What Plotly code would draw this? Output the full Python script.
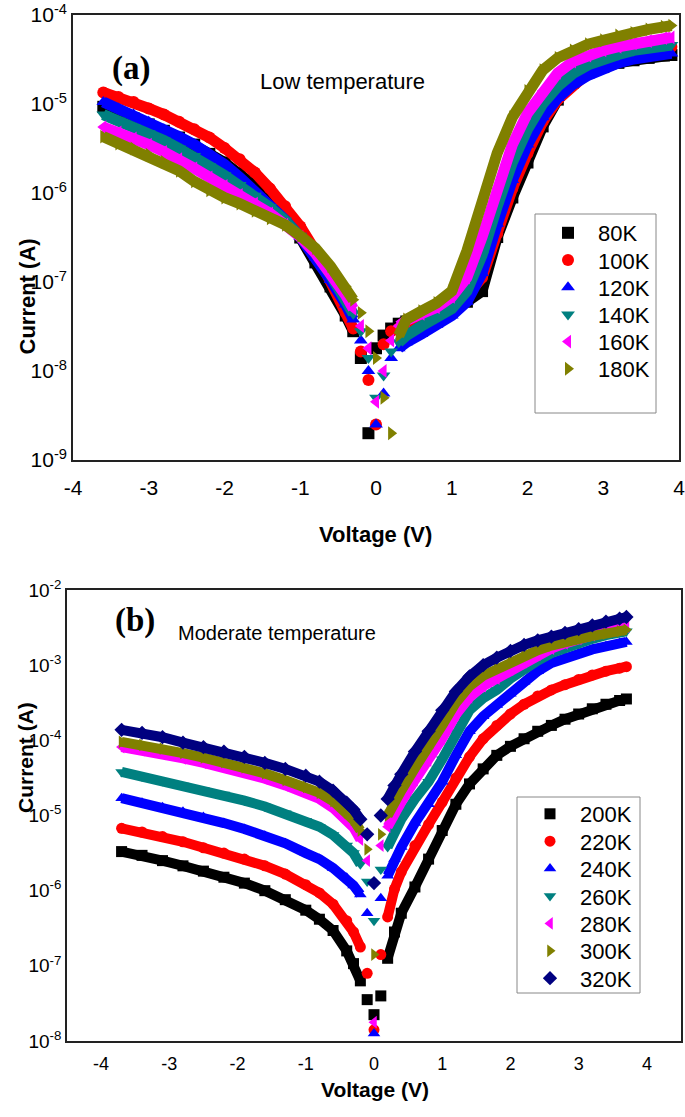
import math
import plotly.graph_objects as go

# ---------------- panel (a): low temperature ----------------
volt_a = [-3.6, -3.4, -3.2, -3.0, -2.8, -2.6, -2.4, -2.2, -2.0, -1.8, -1.6, -1.4, -1.2, -1.0, -0.8, -0.6, -0.4,
          -0.3, -0.2, -0.1, 0.0, 0.1, 0.2, 0.3, 0.4,
          0.6, 0.8, 1.0, 1.2, 1.4, 1.6, 1.8, 2.0, 2.2, 2.4, 2.6, 2.8, 3.0, 3.2, 3.4, 3.6, 3.8, 3.9]

i_80K = [9.3e-6, 8.1e-6, 6.9e-6, 5.9e-6, 5.0e-6, 4.2e-6, 3.5e-6, 2.75e-6, 2.2e-6, 1.66e-6, 1.2e-6, 8.3e-7, 5.5e-7, 3.16e-7, 1.66e-7, 8.9e-8, 4.2e-8,
         2.8e-8, 1.4e-8, 2.0e-9, 1.8e-8, 2.5e-8, 3.0e-8, 3.4e-8, 3.6e-8,
         4.2e-8, 4.8e-8, 5.4e-8, 6.0e-8, 7.9e-8, 3.2e-7, 8.9e-7, 2.2e-6, 5.6e-6, 1.12e-5, 1.74e-5, 2.24e-5, 2.6e-5, 2.9e-5, 3.1e-5, 3.3e-5, 3.5e-5, 3.55e-5]
i_100K = [1.35e-5, 1.2e-5, 1.05e-5, 8.9e-6, 7.6e-6, 6.3e-6, 5.2e-6, 4.2e-6, 3.2e-6, 2.4e-6, 1.7e-6, 1.12e-6, 7.1e-7, 4.2e-7, 2.24e-7, 1.05e-7, 4.5e-8,
          3.0e-8, 1.66e-8, 7.9e-9, 2.5e-9, 2.0e-8, 2.8e-8, 3.0e-8, 3.3e-8,
          4.0e-8, 4.8e-8, 5.6e-8, 7.1e-8, 1.12e-7, 3.5e-7, 1.12e-6, 2.8e-6, 6.3e-6, 1.12e-5, 1.66e-5, 2.24e-5, 2.8e-5, 3.3e-5, 3.7e-5, 4.0e-5, 4.3e-5, 4.4e-5]
i_120K = [1.05e-5, 8.9e-6, 7.6e-6, 6.3e-6, 5.2e-6, 4.3e-6, 3.5e-6, 2.75e-6, 2.1e-6, 1.5e-6, 1.07e-6, 7.4e-7, 5.0e-7, 3.2e-7, 1.9e-7, 1.05e-7, 5.6e-8,
          3.8e-8, 2.2e-8, 1.0e-8, 2.5e-9, 5.6e-9, 1.4e-8, 1.8e-8, 2.1e-8,
          2.6e-8, 3.3e-8, 4.2e-8, 6.0e-8, 1.26e-7, 4.5e-7, 1.4e-6, 3.5e-6, 7.1e-6, 1.17e-5, 1.66e-5, 2.1e-5, 2.5e-5, 2.9e-5, 3.2e-5, 3.4e-5, 3.6e-5, 3.7e-5]
i_140K = [7.6e-6, 6.5e-6, 5.5e-6, 4.7e-6, 3.9e-6, 3.16e-6, 2.6e-6, 2.0e-6, 1.58e-6, 1.23e-6, 9.3e-7, 6.9e-7, 4.9e-7, 3.3e-7, 2.1e-7, 1.2e-7, 6.3e-8,
          4.4e-8, 2.8e-8, 1.4e-8, 5.0e-9, 8.9e-9, 1.66e-8, 2.1e-8, 2.5e-8,
          3.2e-8, 4.0e-8, 5.0e-8, 7.9e-8, 2.0e-7, 7.1e-7, 2.2e-6, 5.2e-6, 1.0e-5, 1.58e-5, 2.2e-5, 2.75e-5, 3.2e-5, 3.6e-5, 4.0e-5, 4.3e-5, 4.5e-5, 4.6e-5]
i_160K = [5.5e-6, 4.8e-6, 4.1e-6, 3.5e-6, 2.9e-6, 2.4e-6, 1.9e-6, 1.5e-6, 1.2e-6, 9.5e-7, 7.6e-7, 5.9e-7, 4.4e-7, 3.2e-7, 2.1e-7, 1.26e-7, 7.1e-8,
          5.0e-8, 3.2e-8, 1.8e-8, 4.5e-9, 1.0e-8, 2.2e-8, 3.2e-8, 3.7e-8,
          4.4e-8, 5.2e-8, 6.8e-8, 1.12e-7, 3.2e-7, 1.12e-6, 3.5e-6, 7.9e-6, 1.4e-5, 2.24e-5, 3.0e-5, 3.5e-5, 4.0e-5, 4.4e-5, 4.8e-5, 5.1e-5, 5.5e-5, 5.6e-5]
i_180K = [4.3e-6, 3.6e-6, 3.16e-6, 2.7e-6, 2.24e-6, 1.78e-6, 1.35e-6, 1.07e-6, 8.9e-7, 7.6e-7, 6.3e-7, 5.2e-7, 4.4e-7, 3.3e-7, 2.4e-7, 1.5e-7, 8.9e-8,
          6.3e-8, 4.5e-8, 2.8e-8, 1.4e-8, 5.0e-9, 2.0e-9, 2.5e-8, 3.8e-8,
          4.7e-8, 5.8e-8, 7.9e-8, 2.24e-7, 7.9e-7, 2.8e-6, 7.1e-6, 1.4e-5, 2.4e-5, 3.3e-5, 4.0e-5, 4.7e-5, 5.2e-5, 5.9e-5, 6.3e-5, 6.9e-5, 7.4e-5, 7.6e-5]

labels_a = ["80K", "100K", "120K", "140K", "160K", "180K"]
currents_a = [i_80K, i_100K, i_120K, i_140K, i_160K, i_180K]

# ---------------- panel (b): moderate temperature ----------------
volt_b = [-3.7, -3.4, -3.1, -2.8, -2.5, -2.2, -1.9, -1.6, -1.3, -1.0, -0.8, -0.6, -0.4, -0.3, -0.2, -0.1, 0.0,
          0.1, 0.2, 0.3, 0.4, 0.6, 0.8, 1.0, 1.2, 1.4, 1.6, 1.8, 2.0, 2.2, 2.4, 2.6, 2.8, 3.0, 3.2, 3.4, 3.6, 3.7]

i_200K = [3.31e-6, 2.95e-6, 2.51e-6, 2.14e-6, 1.82e-6, 1.51e-6, 1.26e-6, 1.0e-6, 7.59e-7, 5.5e-7, 4.17e-7, 2.95e-7, 1.58e-7, 1.07e-7, 6.31e-8, 3.55e-8, 2.24e-8,
          3.98e-8, 1.26e-7, 2.82e-7, 5.01e-7, 1.12e-6, 2.63e-6, 6.31e-6, 1.41e-5, 2.63e-5, 4.17e-5, 6.31e-5, 8.32e-5, 1.05e-4, 1.32e-4, 1.58e-4, 1.91e-4, 2.24e-4, 2.63e-4, 3.02e-4, 3.39e-4, 3.55e-4]
i_220K = [6.76e-6, 6.03e-6, 5.25e-6, 4.47e-6, 3.72e-6, 3.16e-6, 2.63e-6, 2.14e-6, 1.66e-6, 1.2e-6, 9.33e-7, 6.61e-7, 3.98e-7, 2.82e-7, 1.78e-7, 7.94e-8, 1.41e-8,
          1.41e-7, 4.47e-7, 1.05e-6, 1.78e-6, 3.98e-6, 7.59e-6, 1.51e-5, 3.16e-5, 6.03e-5, 1.05e-4, 1.58e-4, 2.24e-4, 3.02e-4, 3.89e-4, 4.68e-4, 5.5e-4, 6.46e-4, 7.41e-4, 8.32e-4, 9.12e-4, 9.55e-4]
i_240K = [1.7e-5, 1.48e-5, 1.29e-5, 1.12e-5, 9.55e-6, 7.94e-6, 6.61e-6, 5.37e-6, 4.27e-6, 3.16e-6, 2.63e-6, 2.0e-6, 1.48e-6, 1.17e-6, 8.91e-7, 5.01e-7, 1.26e-8,
          7.94e-7, 1.58e-6, 2.63e-6, 3.8e-6, 7.94e-6, 1.41e-5, 2.82e-5, 6.31e-5, 1.32e-4, 2.09e-4, 2.95e-4, 4.17e-4, 6.03e-4, 8.32e-4, 1.07e-3, 1.26e-3, 1.45e-3, 1.62e-3, 1.78e-3, 1.95e-3, 2.04e-3]
i_260K = [3.8e-5, 3.31e-5, 2.88e-5, 2.51e-5, 2.19e-5, 1.91e-5, 1.58e-5, 1.32e-5, 1.07e-5, 8.51e-6, 7.08e-6, 5.5e-6, 3.98e-6, 3.16e-6, 2.24e-6, 1.32e-6, 3.98e-7,
          1.91e-6, 3.8e-6, 6.31e-6, 8.91e-6, 1.66e-5, 2.82e-5, 5.62e-5, 1.26e-4, 2.51e-4, 3.63e-4, 4.68e-4, 6.61e-4, 8.91e-4, 1.15e-3, 1.45e-3, 1.7e-3, 2.0e-3, 2.24e-3, 2.51e-3, 2.75e-3, 2.82e-3]
i_280K = [8.13e-5, 7.41e-5, 6.61e-5, 5.75e-5, 5.01e-5, 4.37e-5, 3.72e-5, 3.09e-5, 2.51e-5, 2.0e-5, 1.66e-5, 1.26e-5, 8.91e-6, 6.92e-6, 4.79e-6, 2.51e-6, 1.78e-8,
          3.98e-6, 7.08e-6, 1.07e-5, 1.51e-5, 2.95e-5, 5.37e-5, 1.05e-4, 2.19e-4, 3.72e-4, 5.25e-4, 6.61e-4, 8.71e-4, 1.1e-3, 1.38e-3, 1.66e-3, 1.95e-3, 2.24e-3, 2.51e-3, 2.82e-3, 3.09e-3, 3.24e-3]
i_300K = [9.55e-5, 8.71e-5, 7.76e-5, 6.76e-5, 5.89e-5, 5.13e-5, 4.37e-5, 3.63e-5, 2.95e-5, 2.4e-5, 2.0e-5, 1.55e-5, 1.1e-5, 8.71e-6, 6.31e-6, 3.55e-6, 1.41e-7,
          5.62e-6, 1.0e-5, 1.51e-5, 2.14e-5, 4.27e-5, 7.94e-5, 1.58e-4, 3.16e-4, 5.25e-4, 7.24e-4, 8.91e-4, 1.1e-3, 1.32e-3, 1.58e-3, 1.82e-3, 2.04e-3, 2.24e-3, 2.45e-3, 2.63e-3, 2.82e-3, 2.95e-3]
i_320K = [1.38e-4, 1.26e-4, 1.1e-4, 9.33e-5, 8.13e-5, 7.08e-5, 6.03e-5, 5.01e-5, 4.17e-5, 3.39e-5, 2.82e-5, 2.14e-5, 1.48e-5, 1.2e-5, 8.91e-6, 5.62e-6, 1.26e-6,
          1.0e-5, 1.66e-5, 2.51e-5, 3.55e-5, 7.08e-5, 1.32e-4, 2.51e-4, 4.47e-4, 7.08e-4, 1.0e-3, 1.26e-3, 1.55e-3, 1.86e-3, 2.14e-3, 2.4e-3, 2.69e-3, 3.02e-3, 3.39e-3, 3.8e-3, 4.17e-3, 4.37e-3]

labels_b = ["200K", "220K", "240K", "260K", "280K", "300K", "320K"]
currents_b = [i_200K, i_220K, i_240K, i_260K, i_280K, i_300K, i_320K]

# ticks
xticks = [-4, -3, -2, -1, 0, 1, 2, 3, 4]
yticks_a = [1e-9, 1e-8, 1e-7, 1e-6, 1e-5, 1e-4]
yticks_b = [1e-8, 1e-7, 1e-6, 1e-5, 1e-4, 1e-3, 1e-2]

colors = ["#000000", "#FF0000", "#0000FF", "#008080", "#FF00FF", "#808000", "#000080"]
symbols = ["square", "circle", "triangle-up", "triangle-down", "triangle-left", "triangle-right", "diamond"]

W, H = 685, 1117
FONT = "Liberation Sans, Arial, sans-serif"


def px(x):
    return x / W


def py(y):
    return 1 - y / H


def sup_labels(vals):
    return ["10<sup>%d</sup>" % round(math.log10(v)) for v in vals]


def band(volts, cur, gap):
    # the dense markers form a solid band; leave the scattered points around 0 V unjoined
    return [c if abs(v) >= gap else None for v, c in zip(volts, cur)]


fig = go.Figure()
legends = {}

# panel (a)
for k, (lab, cur) in enumerate(zip(labels_a, currents_a)):
    leg = "legend" if k == 0 else "legend%d" % (k + 1)
    legends[leg] = dict(x=px(538), y=py(233 + 27.2 * k))
    fig.add_trace(go.Scatter(x=volt_a, y=band(volt_a, cur, 0.25), mode="lines", showlegend=False,
                             hoverinfo="skip", connectgaps=False,
                             line=dict(color=colors[k], width=11), xaxis="x", yaxis="y"))
    fig.add_trace(go.Scatter(x=volt_a, y=cur, mode="markers", name=lab, legend=leg,
                             marker=dict(symbol=symbols[k], size=12, color=colors[k]),
                             xaxis="x", yaxis="y"))

# panel (b)
for k, (lab, cur) in enumerate(zip(labels_b, currents_b)):
    leg = "legend%d" % (k + 7)
    legends[leg] = dict(x=px(520), y=py(814 + 27.4 * k))
    fig.add_trace(go.Scatter(x=volt_b, y=band(volt_b, cur, 0.15), mode="lines", showlegend=False,
                             hoverinfo="skip", connectgaps=False,
                             line=dict(color=colors[k], width=10), xaxis="x2", yaxis="y2"))
    fig.add_trace(go.Scatter(x=volt_b, y=cur, mode="markers", name=lab, legend=leg,
                             marker=dict(symbol=symbols[k], size=11, color=colors[k]),
                             xaxis="x2", yaxis="y2"))

for leg, opts in legends.items():
    fig.update_layout({leg: dict(opts, xanchor="left", yanchor="middle", bgcolor="rgba(0,0,0,0)",
                                 borderwidth=0, itemwidth=50, font=dict(size=22))})

axis_common = dict(showgrid=False, zeroline=False, showline=True, mirror=True, automargin=False,
                   linecolor="#222222", linewidth=1.6, ticks="", ticklabeloverflow="allow")

fig.update_layout(
    width=W, height=H, autosize=False,
    margin=dict(l=0, r=0, t=0, b=0, pad=0),
    paper_bgcolor="white", plot_bgcolor="white",
    font=dict(family=FONT, color="black"),
    hovermode=False,
    xaxis=dict(axis_common, domain=[px(73), px(679)], range=[-4, 4], anchor="y",
               tickvals=xticks, ticktext=[str(v) for v in xticks], tickfont=dict(size=21),
               ticklabelstandoff=8),
    yaxis=dict(axis_common, domain=[py(460), py(15)], type="log", range=[-9, -4], anchor="x",
               tickvals=yticks_a, ticktext=sup_labels(yticks_a), tickfont=dict(size=21)),
    xaxis2=dict(axis_common, domain=[px(67), px(681)], range=[-4.5, 4.5], anchor="y2",
                tickvals=xticks, ticktext=[str(v) for v in xticks], tickfont=dict(size=18),
                ticklabelstandoff=6),
    yaxis2=dict(axis_common, domain=[py(1041), py(590)], type="log", range=[-8, -2], anchor="x2",
                tickvals=yticks_b, ticktext=sup_labels(yticks_b), tickfont=dict(size=19)),
    shapes=[
        dict(type="rect", xref="paper", yref="paper", x0=px(535), x1=px(656), y0=py(413), y1=py(214),
             line=dict(color="#888888", width=1)),
        dict(type="rect", xref="paper", yref="paper", x0=px(517), x1=px(640), y0=py(993), y1=py(797),
             line=dict(color="#888888", width=1)),
    ],
    annotations=[
        dict(text="<b>(a)</b>", x=px(110), y=py(48), xref="paper", yref="paper", showarrow=False,
             font=dict(family="Liberation Serif, Times New Roman, serif", size=33)),
        dict(text="<b>(b)</b>", x=px(113), y=py(620), xref="paper", yref="paper", showarrow=False,
             font=dict(family="Liberation Serif, Times New Roman, serif", size=33)),
        dict(text="Low temperature", x=px(258), y=py(67), xref="paper", yref="paper", xanchor="left",
             showarrow=False, font=dict(size=22)),
        dict(text="Moderate temperature", x=px(176), y=py(633), xref="paper", yref="paper", xanchor="left",
             showarrow=False, font=dict(size=20)),
        dict(text="<b>Current (A)</b>", x=px(12), y=py(237), xref="paper", yref="paper", textangle=-90,
             showarrow=False, font=dict(size=22)),
        dict(text="<b>Voltage (V)</b>", x=px(375), y=py(534), xref="paper", yref="paper",
             showarrow=False, font=dict(size=22)),
        dict(text="<b>Current (A)</b>", x=px(12), y=py(815), xref="paper", yref="paper", textangle=-90,
             showarrow=False, font=dict(size=21)),
        dict(text="<b>Voltage (V)</b>", x=px(375), y=py(1103), xref="paper", yref="paper",
             showarrow=False, font=dict(size=21)),
    ],
)

fig.write_html("out.html", config={"displayModeBar": False},
               post_script="document.body.style.margin='0';document.body.style.overflow='hidden';")
